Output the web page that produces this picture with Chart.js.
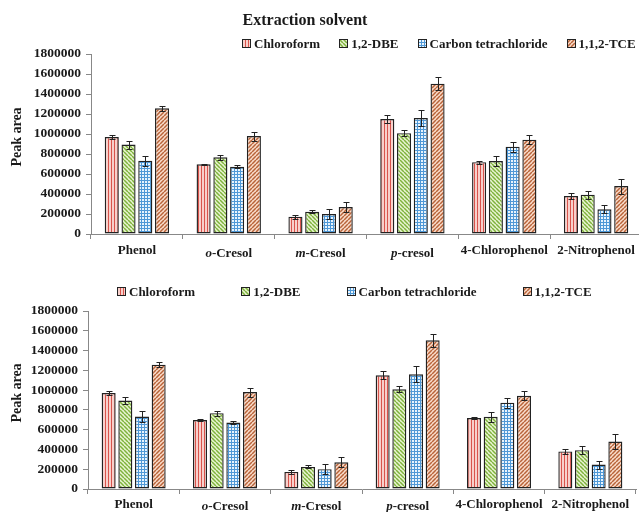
<!DOCTYPE html>
<html>
<head>
<meta charset="utf-8">
<script src="https://cdn.jsdelivr.net/npm/chart.js@4.4.1/dist/chart.umd.min.js"></script>
<style>
  html, body { margin: 0; padding: 0; background: #fff; overflow: hidden; }
  body { width: 639px; height: 512px; position: relative; font-family: "Liberation Serif", serif; font-weight: bold; color: #1a1a1a; }
  canvas.chart { position: absolute; left: 0; }
  #c1 { top: 0; }
  #c2 { top: 262px; }
  .title { position: absolute; top: 11px; left: 305px; transform: translateX(-50%); font-size: 16px; white-space: nowrap; }
  .legend { position: absolute; display: flex; align-items: center; font-size: 13px; line-height: 15px; white-space: nowrap; }
  .legend .item { display: flex; align-items: center; }
  .legend canvas { margin-right: 3px; }
</style>
</head>
<body>
<canvas class="chart" id="c1" width="645" height="262"></canvas>
<canvas class="chart" id="c2" width="639" height="250"></canvas>
<div class="title">Extraction solvent</div>
<div class="legend" id="leg1" style="left:242px; top:36px; gap:19px;"></div>
<div class="legend" id="leg2" style="left:117px; top:284px; gap:46px;"></div>

<script>
// compounds on the x axis (o-, m-, p- prefixes get italics)
const categories = ['Phenol', 'o-Cresol', 'm-Cresol', 'p-cresol', '4-Chlorophenol', '2-Nitrophenol'];

// extraction solvents
const solvents = ['Chloroform', '1,2-DBE', 'Carbon tetrachloride', '1,1,2-TCE'];

// peak areas and standard deviations per solvent
const chloroform    = [970000, 697000, 173000, 1150000, 718000, 380000];
const chloroformErr = [20000, 8000, 20000, 40000, 15000, 28000];
const dbe           = [895000, 767000, 223000, 1008000, 730000, 393000];
const dbeErr        = [40000, 25000, 15000, 32000, 48000, 40000];
const ctc           = [733000, 672000, 200000, 1160000, 873000, 247000];
const ctcErr        = [52000, 15000, 50000, 80000, 50000, 40000];
const tce           = [1257000, 980000, 270000, 1503000, 943000, 480000];
const tceErr        = [28000, 45000, 50000, 63000, 45000, 75000];

const yTicks = { min: 0, max: 1800000, step: 200000 };

const FONT = '"Liberation Serif", "Times New Roman", serif';

// little canvas tiles used as bar fills
function tile(w, h, draw) {
  const c = document.createElement('canvas');
  c.width = w; c.height = h;
  draw(c.getContext('2d'));
  return c;
}

function stripes(ctx, size, color, dir) {
  ctx.strokeStyle = color;
  ctx.lineWidth = 1.5;
  for (let k = -1; k <= 1; k++) {
    ctx.beginPath();
    if (dir > 0) { ctx.moveTo(k * size, size); ctx.lineTo(k * size + size, 0); }
    else { ctx.moveTo(k * size, 0); ctx.lineTo(k * size + size, size); }
    ctx.stroke();
  }
}

const tiles = [
  tile(3, 3, ctx => {
    ctx.fillStyle = '#f8d0cb'; ctx.fillRect(0, 0, 3, 3);
    ctx.fillStyle = '#d8544c'; ctx.fillRect(0, 0, 1, 3);
  }),
  tile(4, 4, ctx => {
    ctx.fillStyle = '#e9f4d2'; ctx.fillRect(0, 0, 4, 4);
    stripes(ctx, 4, '#7fb23c', -1);
  }),
  tile(3, 3, ctx => {
    ctx.fillStyle = '#e8f4fd'; ctx.fillRect(0, 0, 3, 3);
    ctx.fillStyle = '#4f98d6';
    ctx.fillRect(0, 0, 3, 1); ctx.fillRect(0, 0, 1, 3);
  }),
  tile(4, 4, ctx => {
    ctx.fillStyle = '#fadccb'; ctx.fillRect(0, 0, 4, 4);
    stripes(ctx, 4, '#b8643a', 1);
  })
];

function buildDatasets(ctx) {
  const series = [chloroform, dbe, ctc, tce];
  const errs = [chloroformErr, dbeErr, ctcErr, tceErr];
  return solvents.map((name, i) => ({
    label: name,
    data: series[i],
    errors: errs[i],
    backgroundColor: ctx.createPattern(tiles[i], 'repeat'),
    borderColor: '#222',
    borderWidth: 1.4,
    borderSkipped: false,
    categoryPercentage: 0.73,
    barPercentage: 0.84
  }));
}

// error bars drawn off the y scale
const errorBars = {
  id: 'errorBars',
  afterDatasetsDraw(chart) {
    const ctx = chart.ctx;
    const y = chart.scales.y;
    ctx.save();
    ctx.strokeStyle = '#222';
    ctx.lineWidth = 1;
    chart.data.datasets.forEach((ds, di) => {
      chart.getDatasetMeta(di).data.forEach((bar, i) => {
        const v = ds.data[i], e = ds.errors[i];
        const x = Math.round(bar.x) + 0.5;
        const hi = Math.round(y.getPixelForValue(v + e)) + 0.5;
        const lo = Math.round(y.getPixelForValue(v - e)) + 0.5;
        ctx.beginPath();
        ctx.moveTo(x, hi); ctx.lineTo(x, lo);
        ctx.moveTo(x - 3, hi); ctx.lineTo(x + 3, hi);
        ctx.moveTo(x - 3, lo); ctx.lineTo(x + 3, lo);
        ctx.stroke();
      });
    });
    ctx.restore();
  }
};

// category names with italic position prefixes, plus the y title
const axisText = {
  id: 'axisText',
  afterDraw(chart, args, opts) {
    const ctx = chart.ctx;
    const x = chart.scales.x;
    const area = chart.chartArea;
    const bold = 'bold 13px ' + FONT;
    const ital = 'italic bold 13px ' + FONT;
    ctx.save();
    ctx.fillStyle = '#1a1a1a';
    ctx.textBaseline = 'middle';
    ctx.textAlign = 'left';
    categories.forEach((name, i) => {
      const m = name.match(/^([omp])(-.*)$/);
      const parts = m ? [[m[1], ital], [m[2], bold]] : [[name, bold]];
      let w = 0;
      parts.forEach(([t, f]) => { ctx.font = f; w += ctx.measureText(t).width; });
      let cx = x.getPixelForValue(i) - w / 2;
      const cy = area.bottom + opts.gap + (m ? 2.5 : 0);
      parts.forEach(([t, f]) => {
        ctx.font = f;
        ctx.fillText(t, cx, cy);
        cx += ctx.measureText(t).width;
      });
    });
    ctx.translate(17, (area.top + area.bottom) / 2 - 7);
    ctx.rotate(-Math.PI / 2);
    ctx.textAlign = 'center';
    ctx.font = 'bold 14px ' + FONT;
    ctx.fillText('Peak area', 0, 0);
    ctx.restore();
  }
};

function makeChart(id, padTop, padRight, yWidth, xHeight, labelGap) {
  const canvas = document.getElementById(id);
  const ctx = canvas.getContext('2d');
  return new Chart(ctx, {
    type: 'bar',
    data: { labels: categories, datasets: buildDatasets(ctx) },
    options: {
      responsive: false,
      animation: false,
      layout: { padding: { top: padTop, right: padRight, left: 0, bottom: 0 } },
      plugins: {
        legend: { display: false },
        tooltip: { enabled: false },
        axisText: { gap: labelGap }
      },
      scales: {
        x: {
          afterFit: s => { s.height = xHeight; },
          grid: { offset: true, drawOnChartArea: false, tickLength: 5, color: '#888' },
          border: { color: '#888' },
          ticks: { display: false }
        },
        y: {
          min: yTicks.min,
          max: yTicks.max,
          afterFit: s => { s.width = yWidth; },
          grid: { drawOnChartArea: false, tickLength: 5, color: '#888' },
          border: { color: '#888' },
          ticks: {
            stepSize: yTicks.step,
            padding: 5,
            color: '#1a1a1a',
            font: { family: FONT, size: 13.5, weight: 'bold' },
            callback: v => String(v)
          }
        }
      }
    },
    plugins: [errorBars, axisText]
  });
}

function buildLegend(el) {
  solvents.forEach((name, i) => {
    const item = document.createElement('span');
    item.className = 'item';
    const sw = document.createElement('canvas');
    sw.width = 9; sw.height = 9;
    const c = sw.getContext('2d');
    c.fillStyle = c.createPattern(tiles[i], 'repeat');
    c.fillRect(0, 0, 9, 9);
    c.strokeStyle = '#222';
    c.lineWidth = 1;
    c.strokeRect(0.5, 0.5, 8, 8);
    item.appendChild(sw);
    item.appendChild(document.createTextNode(name));
    el.appendChild(item);
  });
}

makeChart('c1', 54, 3, 91, 28, 17);
makeChart('c2', 49, 3, 88, 23, 15.5);
buildLegend(document.getElementById('leg1'));
buildLegend(document.getElementById('leg2'));
</script>
</body>
</html>
